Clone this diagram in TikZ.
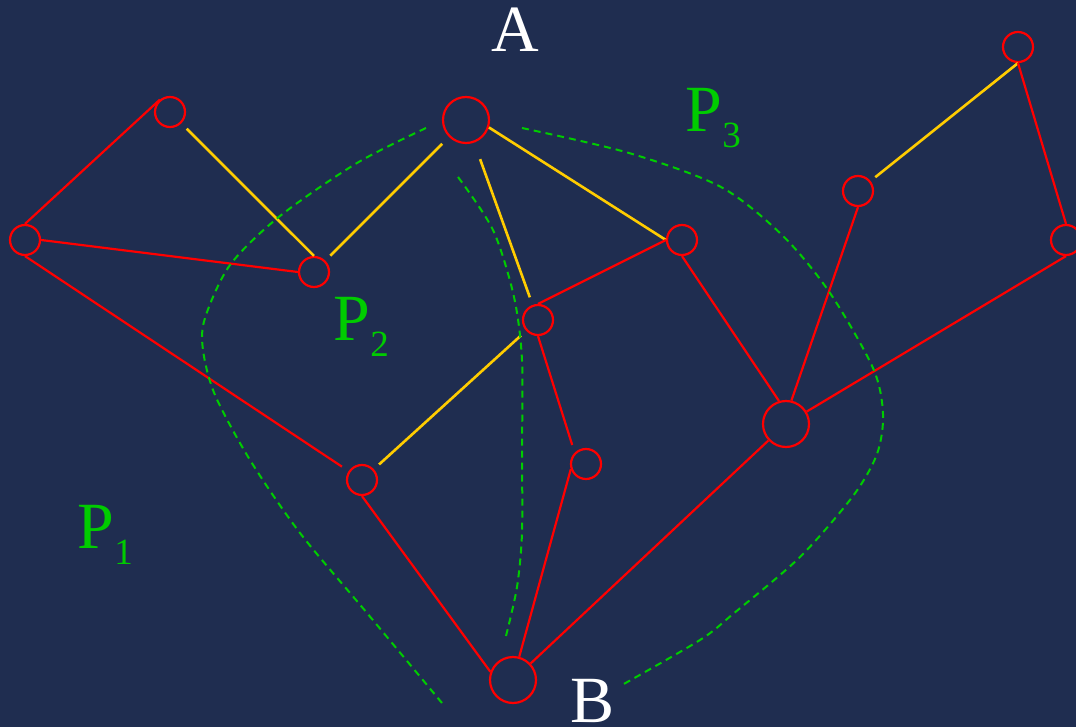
\documentclass[tikz,border=0pt]{standalone}
\usepackage{fontspec}
\setmainfont{Liberation Serif}
\usepackage{xcolor}
\usepackage{tikz}
\definecolor{slidebg}{HTML}{1F2D50}
\definecolor{edgered}{HTML}{FF0000}
\definecolor{edgegold}{HTML}{FFCC00}
\definecolor{cutgreen}{HTML}{00CC00}
\newcommand{\regionlabel}[1]{P\lower16pt\hbox{\fontsize{37}{40}\selectfont #1}}

\begin{document}
\begin{tikzpicture}[x=1pt,y=-1pt,
  vertex/.style={circle,draw=edgered,line width=2.2pt,inner sep=0pt,minimum size=30pt},
  bigvertex/.style={vertex,minimum size=46pt},
  rededge/.style={edgered,line width=2.2pt},
  goldedge/.style={edgegold,line width=2.6pt},
  cutline/.style={cutgreen,line width=2pt,dash pattern=on 7pt off 5pt},
  biglabel/.style={white,inner sep=0pt,anchor=base,font=\fontsize{66}{70}\selectfont},
  partlabel/.style={cutgreen,inner sep=0pt,anchor=base west,font=\fontsize{66}{70}\selectfont}]

\useasboundingbox (0,0) rectangle (1076,727);
\fill[slidebg] (0,0) rectangle (1076,727);

% vertices
\node[bigvertex] (na)  at (466,120) {};
\node[vertex]    (ntl) at (170,112) {};
\node[vertex]    (nl)  at (25,240)  {};
\node[vertex]    (nq)  at (314,272) {};
\node[vertex]    (nm)  at (538,320) {};
\node[vertex]    (nr)  at (682,240) {};
\node[vertex]    (nru) at (858,191) {};
\node[vertex]    (ntr) at (1018,47) {};
\node[vertex]    (nfr) at (1066,240) {};
\node[bigvertex] (nbr) at (786,424) {};
\node[vertex]    (nll) at (362,480) {};
\node[vertex]    (nlm) at (586,464) {};
\node[bigvertex] (nb)  at (513,680) {};

% edges
\draw[rededge,shorten >=-3pt] (nl.north) -- (ntl.140);
\draw[goldedge,shorten <=7.5pt] (ntl.-45) -- (nq.north);
\draw[rededge] (nl.east) -- (nq.west);
\draw[goldedge,shorten <=9.5pt,shorten >=7pt] (na) -- (nq);
\draw[rededge,shorten >=8pt] (nl.south) -- (nll);
\draw[goldedge] (na.-18) -- (nr.west);
\draw[goldedge,shorten <=17.5pt,shorten >=8pt] (na) -- (nm);
\draw[rededge] (nm.north) -- (nr.west);
\draw[goldedge,shorten <=7pt,shorten >=7pt] (nm) -- (nll);
\draw[rededge,shorten >=8pt] (nm.south) -- (nlm.north west);
\draw[rededge] (nr.south) -- (nbr.107);
\draw[rededge] (nru.south) -- (nbr.77);
\draw[goldedge,shorten <=6pt] (nru) -- (ntr.south);
\draw[rededge] (ntr.south) -- (nfr.north);
\draw[rededge] (nfr.south) -- (nbr);
\draw[rededge] (nll.south) -- (nb.160);
\draw[rededge] (nlm.199) -- (nb.75);
\draw[rededge] (nbr) -- (nb);

% cuts between the regions
\draw[cutline] plot[smooth] coordinates {(426,128) (357,163) (280,216) (230,265)
  (205,318) (203,350) (215,395) (250,460) (300,533) (367,613) (442,703)};
\draw[cutline] plot[smooth] coordinates {(458,177) (493,230) (514,297) (522,360)
  (522,450) (522,533) (517,587) (506,636)};
\draw[cutline] plot[smooth] coordinates {(522,128) (629,153) (721,187) (783,236)
  (830,293) (873,368) (883,414) (877,454) (853,496) (800,557) (733,614) (700,640)
  (622,685)};

% labels
\node[biglabel] (la) at (515,52) {A};
\node[biglabel] (lb) at (593,722) {B};
\node[partlabel] (lp1) at (77.5,548) {\regionlabel{1}};
\node[partlabel] (lp2) at (333.5,341) {\regionlabel{2}};
\node[partlabel] (lp3) at (685.5,132) {\regionlabel{3}};

\end{tikzpicture}
\end{document}
